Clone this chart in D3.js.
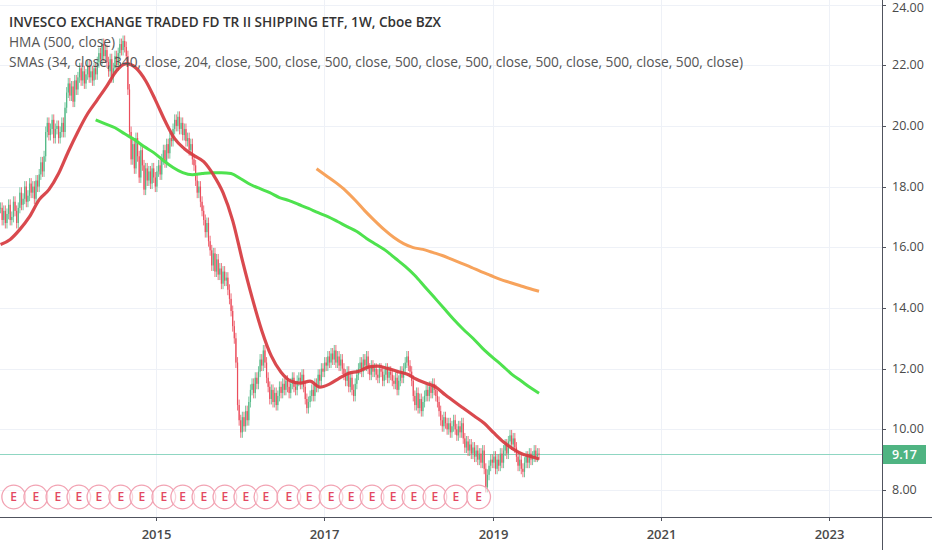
<!DOCTYPE html>
<html>
<head>
<meta charset="utf-8">
<script src="https://cdn.jsdelivr.net/npm/d3@7"></script>
<style>
  html, body { margin: 0; padding: 0; background: #fff; }
  svg { display: block; font-family: "Open Sans", "DejaVu Sans", sans-serif; }
</style>
</head>
<body>
<svg id="chart" width="932" height="550"></svg>
<script>
// weekly closes, first bar = week of 2013-02-25
var firstWeek = '2013-02-25';
var closes = [
  17.3, 16.9, 17.2, 16.8, 17.1,
  17.4, 16.9, 17.0, 17.5, 17.2, 16.8,
  17.3, 17.8, 17.4, 17.6, 18.0, 17.5,
  17.7, 18.1, 17.8, 18.0, 17.6, 18.2, 18.0,
  18.4, 18.8, 18.5, 19.0,
  19.8, 20.1, 19.7, 19.9, 20.2, 19.6, 19.9, 20.0, 19.6, 19.8, 20.1, 19.8,
  20.6, 21.1,
  21.4, 21.0, 21.3, 20.8, 21.5, 21.2,
  21.6, 21.9, 21.5, 21.8, 21.4, 21.7, 22.0, 21.6, 21.8, 21.5, 21.9, 21.7, 22.1,
  22.4, 22.2, 22.7, 22.3, 22.5, 22.1,
  21.8, 22.2, 21.6, 21.9, 22.3, 22.0,
  22.4, 22.7, 22.5, 22.8, 22.6, 22.3,
  21.2, 19.8, 18.9,
  19.4, 18.6, 19.6, 19.0, 18.3, 19.2, 18.7, 17.9, 18.6, 18.2,
  18.5, 18.1, 18.6, 18.3, 18.0, 18.5, 18.7, 18.4,
  18.9, 19.2, 18.8, 19.4, 19.1, 19.6, 19.5,
  19.9, 20.2, 20.0, 20.3, 19.9, 20.1, 19.7, 19.9, 19.5, 19.6,
  19.2, 19.4, 18.9, 18.7,
  18.2, 17.8, 18.0, 17.5, 17.2,
  16.9, 16.5, 16.8, 16.2, 15.9,
  15.4, 15.8, 15.2, 15.6, 15.1,
  15.3, 14.8, 15.2, 14.9, 15.0, 14.6, 14.3,
  13.9, 13.4, 13.0, 12.2, 10.8,
  10.3, 9.9, 10.4, 10.1, 10.6, 10.3,
  10.9, 11.3, 11.5, 11.2, 11.7, 11.5, 11.9,
  12.3, 12.1, 12.6, 12.2,
  11.7, 11.4, 11.0, 11.3, 10.9, 11.2, 10.8, 11.1, 11.4,
  11.2, 11.5, 11.3, 11.6, 11.4, 11.2, 11.5, 11.7, 11.4, 11.3, 11.6,
  11.7, 11.5, 11.8, 11.4,
  11.0, 10.7, 10.9, 11.1,
  11.3, 11.1, 11.5, 11.4,
  11.8, 11.6, 12.0, 11.9, 12.2, 12.1,
  12.4, 12.2, 12.5, 12.3, 12.6, 12.2, 12.4, 12.1, 12.3, 12.0,
  11.8, 11.6, 11.9, 11.4, 11.7, 11.3, 11.1, 11.5, 11.8,
  12.0, 12.2, 11.9, 12.3, 12.1, 12.4, 12.0, 11.8, 12.1,
  11.9, 12.0, 11.8, 11.7, 12.0, 11.9, 11.6, 11.8, 12.0, 11.7, 11.9, 11.8, 11.6,
  11.5, 11.7, 11.3, 11.6, 11.9, 11.7,
  12.0, 12.2, 12.4, 12.1, 11.9, 11.6,
  11.1, 10.8, 11.2, 10.7, 11.0, 10.6, 10.9, 11.1,
  11.3, 11.1, 11.4, 11.2, 11.5, 11.3, 11.1, 10.9,
  10.6, 10.3, 10.1, 10.4, 10.2,
  10.0, 10.2, 9.9, 10.1, 10.3, 10.0, 9.8, 10.1, 9.9, 10.2,
  9.7, 9.4, 9.6, 9.3, 9.5, 9.2,
  9.4, 9.1, 9.3, 9.0, 9.2, 8.9, 9.3,
  8.7, 8.1, 8.5,
  8.8, 9.0, 8.9, 9.1, 8.7, 9.0, 8.8, 9.2, 8.9,
  9.3, 9.5, 9.2, 9.6, 9.8, 9.5, 9.7, 9.4,
  9.1, 8.8, 9.0, 8.7, 8.6, 8.9,
  9.1, 8.9, 9.2, 9.0, 9.1, 9.3, 9.1, 9.2, 9.17
];

// [week index, value]
var hma = [
  [0,16.09],[6,16.26],[12,16.59],[18,17.01],[24,17.57],[30,17.90],[36,18.43],[42,19.15],
  [48,19.81],[54,20.40],[60,20.86],[66,21.32],[72,21.82],[78,22.05],[84,21.91],[90,21.49],
  [96,20.86],[102,20.17],[108,19.58],[114,19.25],[120,19.02],[126,18.82],[132,18.39],[138,17.80],
  [144,16.88],[150,15.57],[156,14.35],[162,13.26],[168,12.41],[174,11.88],[180,11.59],[186,11.52],
  [192,11.59],[198,11.39],[204,11.49],[210,11.68],[216,11.85],[222,11.91],[228,12.05],[234,12.08],
  [240,12.01],[246,11.91],[252,11.82],[258,11.65],[264,11.52],[270,11.39],[276,11.13],[282,10.89],
  [288,10.66],[294,10.43],[300,10.20],[306,9.88],[312,9.58],[318,9.35],[324,9.18],[330,9.09],[334,9.02]
];
var smaGreen = [
  [59,20.20],[65,20.07],[71,19.94],[77,19.74],[83,19.55],[89,19.32],[95,19.12],[101,18.86],
  [107,18.63],[113,18.46],[119,18.39],[125,18.43],[131,18.46],[137,18.46],[143,18.43],[149,18.26],
  [155,18.07],[161,17.93],[167,17.80],[173,17.64],[179,17.54],[185,17.41],[191,17.28],[197,17.14],
  [203,17.01],[209,16.85],[215,16.68],[221,16.52],[227,16.29],[233,16.09],[239,15.89],[245,15.63],
  [251,15.37],[257,15.07],[263,14.71],[269,14.35],[275,13.99],[281,13.63],[287,13.30],[293,13.00],
  [299,12.67],[305,12.38],[311,12.11],[317,11.82],[323,11.59],[329,11.36],[334,11.19]
];
var smaOrange = [
  [196,18.59],[202,18.36],[208,18.13],[214,17.87],[220,17.55],[226,17.20],[232,16.88],[238,16.58],
  [244,16.32],[250,16.12],[256,15.99],[262,15.93],[268,15.83],[274,15.73],[280,15.60],[286,15.47],
  [292,15.34],[298,15.20],[304,15.07],[310,14.94],[316,14.84],[322,14.74],[328,14.64],[334,14.55]
];
var earnings = [
  '2013-04-23','2013-07-28','2013-11-01','2014-01-31','2014-04-28','2014-08-01','2014-10-31',
  '2015-02-04','2015-04-27','2015-07-28','2015-10-27','2016-01-26','2016-04-22','2016-07-31',
  '2016-10-27','2017-01-30','2017-04-27','2017-07-27','2017-10-26','2018-01-25','2018-04-26',
  '2018-07-26','2018-11-02'
];
var priceTicks = [8, 10, 12, 14, 16, 18, 20, 22, 24];
var yearTicks = ['2015', '2017', '2019', '2021', '2023'];
var lastPrice = 9.17;
var titleLines = [
  'INVESCO EXCHANGE TRADED FD TR II SHIPPING ETF, 1W, Cboe BZX',
  'HMA (500, close)',
  'SMAs (34, close, 340, close, 204, close, 500, close, 500, close, 500, close, 500, close, 500, close, 500, close, 500, close)'
];

var W = 932, H = 550;
var plotRight = 882, plotBottom = 517;
var upColor = '#53b987', downColor = '#eb4d5c';

var parse = d3.timeParse('%Y-%m-%d');
var start = parse(firstWeek);
function weekDate(i) { return d3.timeDay.offset(start, i * 7); }

var x = d3.scaleTime()
    .domain([new Date(2015, 0, 1), new Date(2023, 0, 1)])
    .range([156, 829]);
var y = d3.scaleLinear()
    .domain([8, 18])
    .range([490, 186.6]);

var svg = d3.select('#chart');

svg.append('defs').append('clipPath').attr('id', 'plotclip')
  .append('rect').attr('x', 0).attr('y', 0).attr('width', plotRight).attr('height', plotBottom);

// grid
var grid = svg.append('g').attr('class', 'grid');
grid.selectAll('line.h').data(priceTicks).enter().append('line')
    .attr('x1', 0).attr('x2', plotRight)
    .attr('y1', function (d) { return Math.round(y(d)) + 0.5; })
    .attr('y2', function (d) { return Math.round(y(d)) + 0.5; })
    .attr('stroke', '#eef1f7').attr('stroke-width', 1);
grid.selectAll('line.v').data(yearTicks).enter().append('line')
    .attr('y1', 0).attr('y2', plotBottom)
    .attr('x1', function (d) { return Math.round(x(new Date(+d, 0, 1))) + 0.5; })
    .attr('x2', function (d) { return Math.round(x(new Date(+d, 0, 1))) + 0.5; })
    .attr('stroke', '#eef1f7').attr('stroke-width', 1);

var plot = svg.append('g').attr('clip-path', 'url(#plotclip)');

// last price line
plot.append('line')
    .attr('x1', 0).attr('x2', plotRight)
    .attr('y1', y(lastPrice)).attr('y2', y(lastPrice))
    .attr('stroke', '#8fd6c2').attr('stroke-width', 1);

// candles (open = previous close)
var bars = closes.map(function (c, i) {
  var o = i === 0 ? c : closes[i - 1];
  return { date: weekDate(i), open: o, close: c };
});
var wick = 0.18;
var candles = plot.append('g').selectAll('g').data(bars).enter().append('g');
candles.append('line')
    .attr('x1', function (d) { return x(d.date); })
    .attr('x2', function (d) { return x(d.date); })
    .attr('y1', function (d) { return y(Math.max(d.open, d.close) + wick); })
    .attr('y2', function (d) { return y(Math.min(d.open, d.close) - wick); })
    .attr('stroke', function (d) { return d.close >= d.open ? upColor : downColor; })
    .attr('stroke-width', 0.8);
candles.append('rect')
    .attr('x', function (d) { return x(d.date) - 0.6; })
    .attr('width', 1.2)
    .attr('y', function (d) { return y(Math.max(d.open, d.close)); })
    .attr('height', function (d) { return Math.max(0.8, Math.abs(y(d.open) - y(d.close))); })
    .attr('fill', function (d) { return d.close >= d.open ? upColor : downColor; });

// indicator lines
var line = d3.line()
    .x(function (d) { return x(weekDate(d[0])); })
    .y(function (d) { return y(d[1]); })
    .curve(d3.curveMonotoneX);

plot.append('path').datum(smaOrange).attr('d', line)
    .attr('fill', 'none').attr('stroke', '#f7a35c').attr('stroke-width', 3);
plot.append('path').datum(smaGreen).attr('d', line)
    .attr('fill', 'none').attr('stroke', '#4ee24e').attr('stroke-width', 3);
plot.append('path').datum(hma).attr('d', line)
    .attr('fill', 'none').attr('stroke', '#d63a3f').attr('stroke-opacity', 0.92).attr('stroke-width', 3.2);

// earnings markers
var marks = plot.append('g').selectAll('g').data(earnings).enter().append('g')
    .attr('transform', function (d) { return 'translate(' + x(parse(d)) + ',497)'; });
marks.append('circle').attr('r', 11.8)
    .attr('fill', '#fff').attr('fill-opacity', 0.5)
    .attr('stroke', '#f2a3b3').attr('stroke-width', 1.3);
marks.append('text').text('E')
    .attr('text-anchor', 'middle').attr('dy', '0.36em')
    .attr('font-size', 12).attr('font-weight', 600)
    .attr('fill', '#e34862');

// axes
svg.append('line').attr('x1', 0).attr('x2', W).attr('y1', plotBottom + 0.5).attr('y2', plotBottom + 0.5)
    .attr('stroke', '#50535e').attr('stroke-width', 1);
svg.append('line').attr('x1', plotRight + 0.5).attr('x2', plotRight + 0.5).attr('y1', 0).attr('y2', H)
    .attr('stroke', '#50535e').attr('stroke-width', 1);

var yAxis = svg.append('g').attr('transform', 'translate(' + plotRight + ',0)');
yAxis.selectAll('g').data(priceTicks).enter().append('g')
    .attr('transform', function (d) { return 'translate(0,' + Math.round(y(d)) + ')'; })
    .each(function (d) {
      var g = d3.select(this);
      g.append('line').attr('x1', 0).attr('x2', 4).attr('y1', 0.5).attr('y2', 0.5).attr('stroke', '#50535e');
      // keep the top label inside the frame
      g.append('text').attr('x', 10).attr('dy', '0.35em')
        .attr('y', Math.max(0, 7 - y(d)))
        .attr('font-size', 12.5).attr('fill', '#4a4a4a')
        .text(d3.format('.2f')(d));
    });

var xAxis = svg.append('g');
xAxis.selectAll('g').data(yearTicks).enter().append('g')
    .attr('transform', function (d) { return 'translate(' + (Math.round(x(new Date(+d, 0, 1))) + 0.5) + ',' + plotBottom + ')'; })
    .each(function (d) {
      var g = d3.select(this);
      g.append('line').attr('y1', 0).attr('y2', 4).attr('stroke', '#50535e');
      g.append('text').attr('y', 22).attr('text-anchor', 'middle')
        .attr('font-size', 13).attr('font-weight', 600).attr('fill', '#4a4a4a')
        .text(d);
    });

// last price label
var ly = y(lastPrice);
svg.append('rect').attr('x', plotRight + 1).attr('y', ly - 9.5).attr('width', 43).attr('height', 19)
    .attr('fill', '#4fb482');
svg.append('text').attr('x', plotRight + 10).attr('y', ly).attr('dy', '0.35em')
    .attr('font-size', 12.5).attr('font-weight', 600).attr('fill', '#fff')
    .text(d3.format('.2f')(lastPrice));

// legend text
var legend = svg.append('g');
var legendBase = [27, 47, 67];
var legendLen = [432, 106, 734];
titleLines.forEach(function (t, i) {
  legend.append('text')
    .attr('x', 9).attr('y', legendBase[i])
    .attr('font-size', 14.5)
    .attr('font-weight', i === 0 ? 600 : 400)
    .attr('fill', i === 0 ? '#333' : '#555')
    .attr('textLength', legendLen[i]).attr('lengthAdjust', 'spacingAndGlyphs')
    .text(t);
});
</script>
</body>
</html>
